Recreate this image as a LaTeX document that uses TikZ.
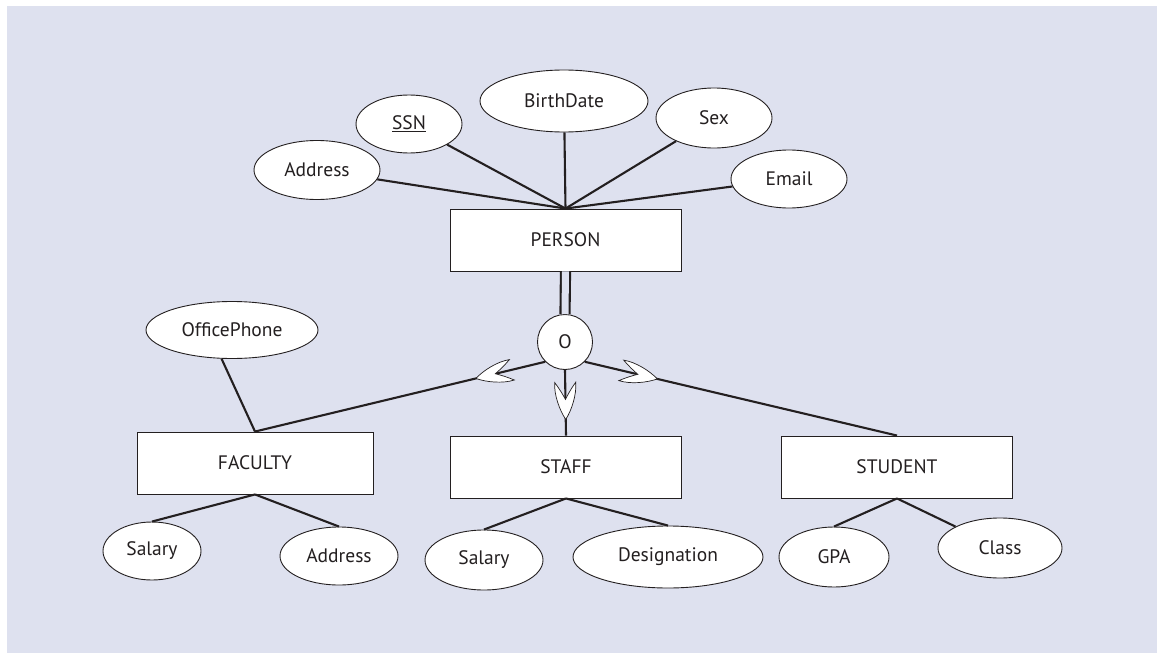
\documentclass[tikz,border=0pt]{standalone}
\usepackage{fontspec}
\setmainfont{PT Sans}
\usetikzlibrary{shapes.geometric}
\definecolor{bg}{RGB}{222,225,239}
\definecolor{ink}{RGB}{35,31,32}
\tikzset{
  subsetsym/.pic={
    \draw[ink, line width=0.7pt, fill=white]
      (0,10.5) .. controls (12,11.5) and (28,6) .. (37,0)
      .. controls (28,-6) and (12,-11.5) .. (0,-10.5)
      .. controls (6,-6) and (13,-2) .. (17,0)
      .. controls (13,2) and (6,6) .. (0,10.5) -- cycle;
  }
}
\begin{document}
\begin{tikzpicture}[x=1pt,y=-1pt,
  every node/.style={font=\fontsize{19.5}{22}\selectfont, text=ink},
  attr/.style={draw=ink, ellipse, fill=white, line width=0.9pt, inner sep=0pt},
  ent/.style={draw=ink, rectangle, fill=white, line width=0.9pt, inner sep=0pt,
              minimum width=231, minimum height=62},
  conn/.style={draw=ink, line width=2.1pt}]
\useasboundingbox (0,0) rectangle (1157,653);
\fill[bg] (7,6) rectangle (1157,653);

% entities
\node[ent] (person) at (565.5,240) {PERSON};
\node[ent, minimum width=236] (faculty) at (255,463) {FACULTY};
\node[ent] (staff) at (566,467) {STAFF};
\node[ent] (student) at (897,467) {STUDENT};

% specialization circle
\node[draw=ink, circle, fill=white, line width=0.9pt, minimum size=55, inner sep=0pt] (o) at (565,342) {O};

% attributes
\node[attr, minimum width=126, minimum height=59] (addr1) at (317,170) {Address};
\node[attr, minimum width=106, minimum height=58] (ssn) at (409,124) {\underline{SSN}};
\node[attr, minimum width=168, minimum height=62] (birth) at (564,101) {BirthDate};
\node[attr, minimum width=116, minimum height=60] (sex) at (714,118) {Sex};
\node[attr, minimum width=116, minimum height=58] (email) at (789,179) {Email};
\node[attr, minimum width=172, minimum height=57] (ophone) at (232,330) {OfficePhone};
\node[attr, minimum width=98, minimum height=58] (salary1) at (152,551) {Salary};
\node[attr, minimum width=118, minimum height=58] (addr2) at (339,556) {Address};
\node[attr, minimum width=118, minimum height=60] (salary2) at (484,560) {Salary};
\node[attr, minimum width=190, minimum height=62] (desig) at (668,557) {Designation};
\node[attr, minimum width=110, minimum height=60] (gpa) at (834,557) {GPA};
\node[attr, minimum width=124, minimum height=60] (class) at (1000,548) {Class};

% attribute connectors
\draw[conn] (addr1) -- (person.north);
\draw[conn] (ssn) -- (person.north);
\draw[conn] (birth) -- (person.north);
\draw[conn] (sex) -- (person.north);
\draw[conn] (email) -- (person.north);
\draw[conn] (ophone.250) -- (faculty.north);
\draw[conn] (faculty.south) -- (salary1.north);
\draw[conn] (faculty.south) -- (addr2.north);
\draw[conn] (staff.south) -- (salary2.north);
\draw[conn] (staff.south) -- (desig.north);
\draw[conn] (student.south) -- (gpa.north);
\draw[conn] (student.south) -- (class);

% specialization
\draw[ink, line width=2.1pt, double=bg, double distance=7pt] (person.south) -- (o.north);
\draw[conn] (o.225) -- (faculty.north);
\draw[conn] (o.south) -- (staff.north);
\draw[conn] (o.-45) -- (student.north);
\path (o.225) -- (faculty.north) pic[pos=0.115, sloped, allow upside down] {subsetsym};
\path (o.south) -- (staff.north) pic[pos=0.19, sloped, allow upside down] {subsetsym};
\path (o.-45) -- (student.north) pic[pos=0.117, sloped, allow upside down] {subsetsym};
\end{tikzpicture}
\end{document}
